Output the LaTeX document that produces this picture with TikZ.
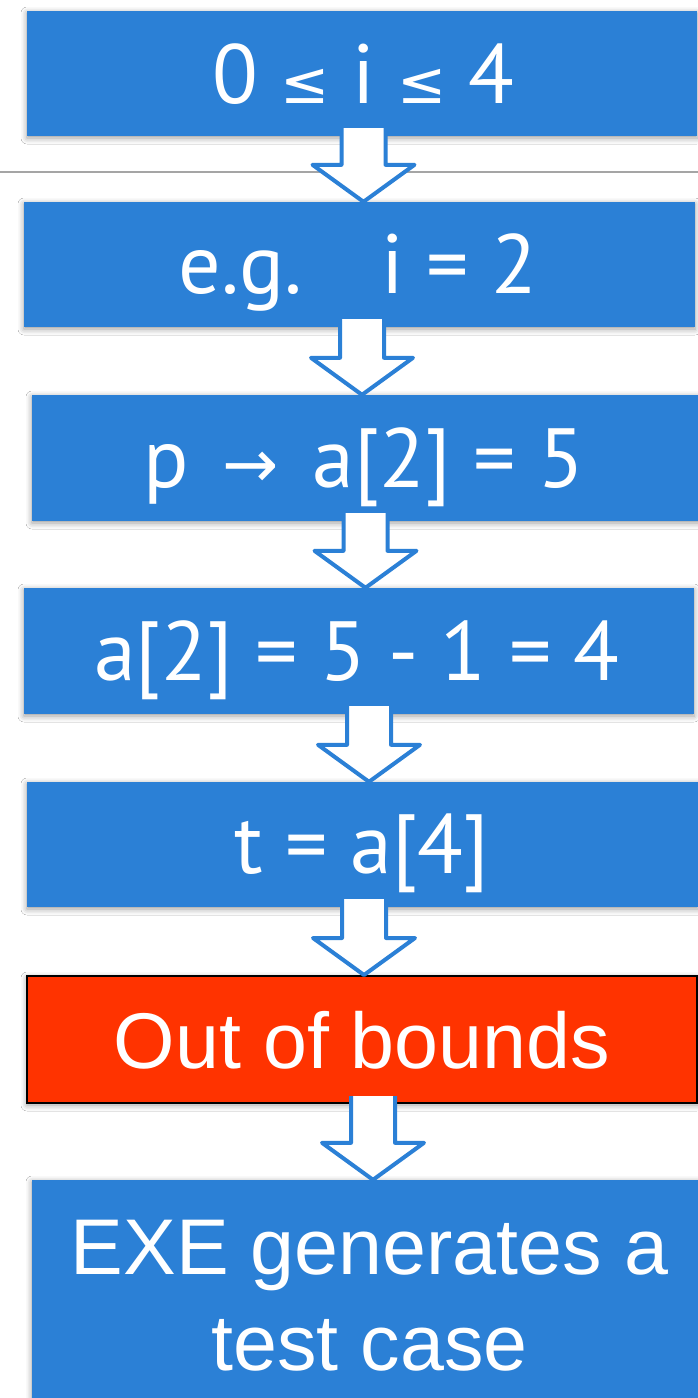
\documentclass[tikz,border=0pt]{standalone}
\usepackage{fontspec}
\setmainfont{Liberation Sans}
\newfontfamily\boxfont{PT Sans}
\newfontfamily\symfont{DejaVu Sans}[Scale=0.8]
\newfontfamily\lesfont{DejaVu Sans}[Scale=0.7]
\usetikzlibrary{calc,shadows.blur}
\definecolor{boxblue}{RGB}{43,128,214}
\definecolor{alertred}{RGB}{255,51,0}
\definecolor{rulegray}{RGB}{165,165,165}
\begin{document}
\begin{tikzpicture}[x=1pt,y=-1pt,
  boxbase/.style={rectangle, inner sep=0pt,
    blur shadow={shadow xshift=0pt, shadow yshift=-2pt, shadow blur radius=6pt, shadow opacity=40}},
  bluebox/.style={boxbase, fill=boxblue},
  redbox/.style={boxbase, fill=alertred, draw=black, line width=2pt},
  lbl/.style={text=white, anchor=base, inner sep=0pt, font=\boxfont\fontsize{84}{90}\selectfont},
  lblh/.style={text=white, anchor=base, inner sep=0pt, font=\fontsize{79}{96}\selectfont},
  blockarrow/.style={draw=boxblue, fill=white, line width=4pt, line join=round}]
\useasboundingbox (0,0) rectangle (698,1398);
\fill[white] (0,0) rectangle (698,1398);

% boxes
\node[bluebox, minimum width=670pt, minimum height=125pt] (b1) at (362,73.5) {};
\node[bluebox, minimum width=671pt, minimum height=125pt] (b2) at (359.5,264.5) {};
\node[bluebox, minimum width=668pt, minimum height=126pt] (b3) at (366,458) {};
\node[bluebox, minimum width=670pt, minimum height=126pt] (b4) at (359,651) {};
\node[bluebox, minimum width=671pt, minimum height=125pt] (b5) at (362.5,844.5) {};
\node[redbox, minimum width=670pt, minimum height=127pt] (b6) at (362,1039.5) {};
\node[bluebox, minimum width=668pt, minimum height=222pt] (b7) at (366,1291) {};

% labels
\node[lbl] (t1) at (363.5,103) {0 {\lesfont ≤} i {\lesfont ≤} 4};
\node[lbl] (t2) at (358,293.5) {e.g.\hspace{0.95em}i = 2};
\node[lbl] (t3) at (364,487) {p\hspace{0.4em}{\symfont →}\hspace{0.4em}a[2] = 5};
\node[lbl] (t4) at (357,680) {a[2] = 5 - 1 = 4};
\node[lbl] (t5) at (362,873.5) {t = a[4]};
\node[lblh] (t6) at (362,1068) {Out of bounds};
\node[lblh] (t7a) at (369.5,1274) {EXE generates a};
\node[lblh] (t7b) at (369.5,1370) {test case};

% gray rule
\coordinate (rl) at (0,172);
\coordinate (rr) at (698,172);
\draw[rulegray, line width=2pt] (rl) -- (rr);

% block arrows
\foreach \a/\b/\cx in {b1/b2/363.5, b2/b3/362, b3/b4/365.5, b4/b5/369, b5/b6/364, b6/b7/373} {
  \draw[blockarrow] let \p1=(\a.south), \p2=(\b.north) in
    ({(\cx-22)*1pt}, {\y1+8pt}) -- ({(\cx-22)*1pt}, {\y2+37pt}) -- ({(\cx-51)*1pt}, {\y2+37pt})
    -- ({\cx*1pt}, {\y2}) -- ({(\cx+51)*1pt}, {\y2+37pt}) -- ({(\cx+22)*1pt}, {\y2+37pt})
    -- ({(\cx+22)*1pt}, {\y1+8pt});
}
\end{tikzpicture}
\end{document}
